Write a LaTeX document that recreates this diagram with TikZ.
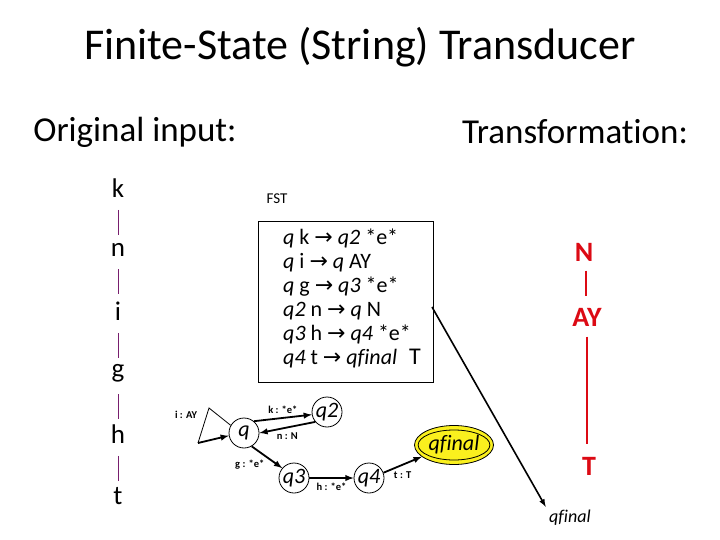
\documentclass[tikz,border=0pt]{standalone}
\usepackage{fontspec}
\setmainfont{Carlito}[Ligatures=NoCommon]
\newfontfamily\arrowfont{DejaVu Sans}
\usetikzlibrary{shapes.geometric, arrows, positioning, calc}
\definecolor{barpurple}{RGB}{120,30,110}
\definecolor{outred}{RGB}{220,10,20}
\definecolor{finalyellow}{RGB}{250,240,30}
\newcommand{\ra}{{\arrowfont\fontsize{22}{24}\selectfont →}}

\tikzset{
  insym/.style={font=\fontsize{27}{30}\selectfont},
  outsym/.style={font=\bfseries\fontsize{28}{30}\selectfont, text=outred},
  state/.style={circle, draw, line width=0.8pt, minimum size=30pt, inner sep=0pt, font=\itshape\fontsize{22}{24}\selectfont},
  edgelabel/.style={font=\bfseries\fontsize{10.5}{12}\selectfont, inner sep=1pt},
  trans/.style={-latex, line width=1.8pt}
}

\begin{document}
\begin{tikzpicture}[x=1pt, y=-1pt]
\useasboundingbox (0,0) rectangle (720,540);
\node (title) at (360,47) {\fontsize{44}{50}\selectfont Finite-State (String) Transducer};
\node (orig) at (135,132) {\fontsize{35}{40}\selectfont Original input:};
\node (transf) at (575,132) {\fontsize{35}{40}\selectfont Transformation:};

% input string
\node (ink) [insym] at (118,188) {k};
\node (inn) [insym] at (118,250) {n};
\node (ini) [insym] at (118,311) {i};
\node (ing) [insym] at (118,373) {g};
\node (inh) [insym] at (118,434) {h};
\node (int) [insym] at (118,496) {t};
\foreach \a/\b in {ink/inn, inn/ini, ini/ing, ing/inh, inh/int}
  \draw[barpurple, line width=0.9pt] ($(\a.south)+(0,9)$) -- ($(\a.south)+(0,34)$);

% rules
\node (fstlabel) at (277,199) {\fontsize{15}{18}\selectfont FST};
\node (fstbox) [rectangle, draw, line width=0.9pt, minimum width=175pt, minimum height=161pt, inner sep=0pt] at (345.5,301.5) {};
\node (rules) [align=left, anchor=north west, inner sep=0pt, font=\fontsize{22}{24}\selectfont] at (283,229) {%
  \textit{q} k \ra{} \textit{q2} *e*\\
  \textit{q} i \ra{} \textit{q} AY\\
  \textit{q} g \ra{} \textit{q3} *e*\\
  \textit{q2} n \ra{} \textit{q} N\\
  \textit{q3} h \ra{} \textit{q4} *e*\\
  \textit{q4} t \ra{} \textit{qfinal}\hspace{12pt}{\fontsize{24}{24}\selectfont T}};

% output string
\node (outn) [outsym] at (584,252) {N};
\node (outay) [outsym] at (587,317) {AY};
\node (outt) [outsym] at (589,466) {T};
\draw[outred, line width=2pt] ($(outn.south)+(2,6)$) -- ($(outn.south)+(2,31)$);
\draw[outred, line width=2pt] ($(outay.south)+(0,7)$) -- ($(outt.north)+(-2,-9)$);

% final state marker
\node (endlabel) at (570,518) {\itshape\fontsize{18}{20}\selectfont qfinal};
\coordinate (boxout) at (432,307);
\draw[-latex, line width=1.6pt] (boxout) -- (endlabel.north west);

% transducer graph
\node (q) [state] at (244,433) {q};
\node (q2) [state] at (327,412) {q2};
\node (q3) [state] at (294,478) {q3};
\node (q4) [state] at (369,478) {q4};
\node (qf) [ellipse, draw, line width=0.8pt, fill=finalyellow, minimum width=79pt, minimum height=39pt, inner sep=0pt] at (454,445) {};
\node (qfin) [ellipse, draw, line width=0.8pt, minimum width=68pt, minimum height=30pt, inner sep=0pt, font=\itshape\fontsize{22}{24}\selectfont] at (454,445) {qfinal};

\coordinate (looptop) at (209,408);
\coordinate (loopbot) at (198,443);
\draw[line width=0.8pt] (q.150) -- (looptop) -- (loopbot);
\draw[trans] (loopbot) -- (q.190);
\node (loopl) [edgelabel] at (186,415) {i : AY};

\draw[trans] (q.50) -- (q2.190) node[edgelabel, midway, above=2pt] {k : *e*};
\draw[trans] (q2.220) -- (q.0) node[edgelabel, midway, below=3pt] {n : N};
\draw[trans] (q.300) -- (q3.140) node[edgelabel, midway, below left=1pt] {g : *e*};
\draw[trans] (q3) -- (q4) node[edgelabel, midway, below=3pt] {h : *e*};
\draw[trans] (q4.20) -- (qf.200) node[edgelabel, midway, below=5pt] {t : T};
\end{tikzpicture}
\end{document}
